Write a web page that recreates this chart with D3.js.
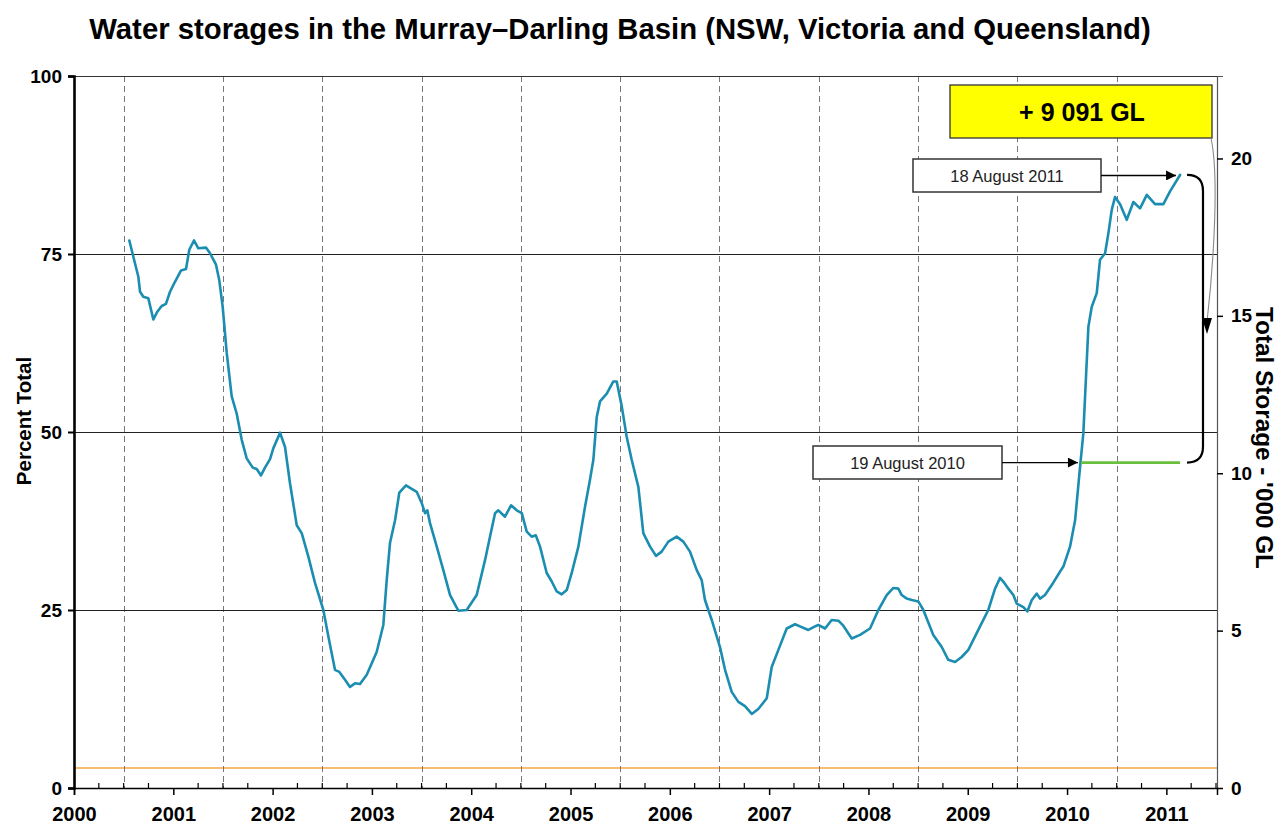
<!DOCTYPE html>
<html>
<head>
<meta charset="utf-8">
<script src="https://cdn.jsdelivr.net/npm/d3@7"></script>
<style>
  html, body { margin: 0; padding: 0; background: #fff; }
  svg { display: block; font-family: "Liberation Sans", Arial, sans-serif; }
</style>
</head>
<body>
<svg id="chart" width="1279" height="829"></svg>
<script>
// ---------- DATA ----------
const title = "Water storages in the Murray\u2013Darling Basin (NSW, Victoria and Queensland)";
const yearTicks = [2000, 2001, 2002, 2003, 2004, 2005, 2006, 2007, 2008, 2009, 2010, 2011];
const percentTicks = [0, 25, 50, 75, 100];
const storageTicks = [0, 5, 10, 15, 20];
const gridPercents = [25, 50, 75];
const midYearLines = [2000.5, 2001.5, 2002.5, 2003.5, 2004.5, 2005.5, 2006.5, 2007.5, 2008.5, 2009.5, 2010.5];
const deadStoragePercent = 2.8;
const capacityThousandGL = 22.62;

// decimal year positions and percent full
const dates = [
  2000.557, 2000.614, 2000.648, 2000.665, 2000.698, 2000.748, 2000.799, 2000.839, 2000.883, 2000.926,
  2000.967, 2001.017, 2001.078, 2001.128, 2001.161, 2001.208, 2001.252, 2001.329, 2001.370, 2001.430,
  2001.463, 2001.497, 2001.538, 2001.588, 2001.638, 2001.689, 2001.739, 2001.800, 2001.840, 2001.883,
  2001.923, 2001.974, 2002.007, 2002.075, 2002.125, 2002.175, 2002.243, 2002.293, 2002.360, 2002.427,
  2002.511, 2002.561, 2002.628, 2002.672, 2002.729, 2002.779, 2002.830, 2002.880, 2002.948, 2003.048,
  2003.115, 2003.149, 2003.182, 2003.233, 2003.276, 2003.343, 2003.401, 2003.451, 2003.502, 2003.535,
  2003.558, 2003.585, 2003.653, 2003.719, 2003.787, 2003.870, 2003.955, 2004.055, 2004.139, 2004.189,
  2004.240, 2004.273, 2004.340, 2004.401, 2004.458, 2004.509, 2004.559, 2004.609, 2004.650, 2004.693,
  2004.760, 2004.811, 2004.861, 2004.911, 2004.962, 2005.012, 2005.079, 2005.146, 2005.196, 2005.230,
  2005.264, 2005.297, 2005.365, 2005.431, 2005.465, 2005.516, 2005.566, 2005.616, 2005.683, 2005.733,
  2005.801, 2005.861, 2005.918, 2005.985, 2006.069, 2006.136, 2006.203, 2006.271, 2006.321, 2006.354,
  2006.422, 2006.505, 2006.556, 2006.623, 2006.690, 2006.757, 2006.825, 2006.891, 2006.976, 2007.026,
  2007.093, 2007.177, 2007.261, 2007.328, 2007.395, 2007.462, 2007.495, 2007.563, 2007.630, 2007.697,
  2007.747, 2007.832, 2007.915, 2008.016, 2008.100, 2008.184, 2008.251, 2008.301, 2008.335, 2008.386,
  2008.436, 2008.502, 2008.553, 2008.653, 2008.738, 2008.804, 2008.872, 2008.939, 2009.006, 2009.124,
  2009.207, 2009.275, 2009.325, 2009.358, 2009.409, 2009.459, 2009.493, 2009.560, 2009.600, 2009.645,
  2009.695, 2009.728, 2009.778, 2009.846, 2009.930, 2009.963, 2010.030, 2010.081, 2010.131, 2010.164,
  2010.191, 2010.215, 2010.249, 2010.299, 2010.332, 2010.383, 2010.416, 2010.450, 2010.483, 2010.534,
  2010.601, 2010.668, 2010.735, 2010.803, 2010.886, 2010.970, 2011.037, 2011.138
];
const percentFull = [
  76.9, 73.7, 71.8, 69.7, 69.0, 68.8, 65.8, 66.9, 67.7, 68.0,
  69.7, 71.1, 72.7, 72.9, 75.6, 76.9, 75.8, 75.9, 75.1, 73.5,
  71.3, 67.6, 61.1, 55.0, 52.6, 48.9, 46.3, 45.0, 44.8, 43.9,
  45.0, 46.2, 47.7, 49.9, 47.9, 42.8, 36.9, 35.8, 32.5, 28.8,
  25.0, 21.3, 16.6, 16.3, 15.2, 14.2, 14.7, 14.6, 15.9, 19.1,
  22.9, 29.2, 34.4, 37.6, 41.5, 42.5, 42.0, 41.6, 40.0, 38.6,
  39.0, 37.2, 33.9, 30.6, 27.1, 24.9, 25.0, 27.1, 32.0, 35.3,
  38.6, 39.0, 38.1, 39.7, 39.0, 38.6, 36.0, 35.3, 35.5, 33.9,
  30.2, 29.0, 27.6, 27.2, 27.8, 30.2, 33.9, 39.5, 43.3, 46.1,
  52.1, 54.3, 55.4, 57.1, 57.1, 53.6, 49.3, 46.1, 42.3, 35.8,
  33.9, 32.6, 33.2, 34.6, 35.3, 34.6, 33.2, 30.6, 29.2, 26.4,
  23.6, 19.8, 16.6, 13.5, 12.1, 11.5, 10.4, 11.1, 12.6, 17.0,
  19.4, 22.4, 23.0, 22.6, 22.2, 22.7, 22.9, 22.4, 23.6, 23.5,
  22.8, 21.0, 21.5, 22.4, 25.0, 27.1, 28.1, 28.0, 27.1, 26.6,
  26.4, 26.2, 25.0, 21.5, 19.8, 18.0, 17.7, 18.4, 19.4, 22.7,
  25.0, 28.0, 29.5, 29.0, 28.0, 27.1, 25.9, 25.4, 24.8, 26.4,
  27.3, 26.6, 27.1, 28.5, 30.4, 31.1, 33.9, 37.6, 45.1, 49.8,
  57.8, 64.8, 67.6, 69.5, 74.2, 75.1, 77.9, 81.2, 83.0, 82.0,
  79.8, 82.3, 81.4, 83.3, 82.0, 82.0, 83.8, 86.1
];
const lastYearStart = 2010.14;     // 19 August 2010 marker
const lastYearPercent = 45.7;
const labelThen = "19 August 2010";
const labelNow = "18 August 2011";
const changeLabel = "+ 9 091 GL";

// ---------- LAYOUT ----------
const svg = d3.select("#chart");
const mLeft = 74, mRight = 1217, mTop = 76, mBottom = 788;

const x = d3.scaleLinear().domain([2000, 2011.51]).range([mLeft, mRight]);
const y = d3.scaleLinear().domain([0, 100]).range([mBottom, mTop]);
const y2 = d3.scaleLinear().domain([0, capacityThousandGL]).range([mBottom, mTop]);

const FONT = '"Liberation Sans", Arial, sans-serif';

// markers
const defs = svg.append("defs");
defs.append("marker").attr("id", "arrowBlack")
  .attr("viewBox", "0 0 10 10").attr("refX", 10).attr("refY", 5)
  .attr("markerUnits", "userSpaceOnUse").attr("markerWidth", 13).attr("markerHeight", 10)
  .attr("orient", "auto")
  .append("path").attr("d", "M0,0 L10,5 L0,10 Z").attr("fill", "#000");

// Title
svg.append("text").attr("x", 620).attr("y", 39).attr("text-anchor", "middle")
  .attr("font-size", 29.3).attr("font-weight", "bold").attr("fill", "#000").text(title);

// Orange dead-storage line
svg.append("line").attr("x1", mLeft).attr("x2", mRight)
  .attr("y1", y(deadStoragePercent)).attr("y2", y(deadStoragePercent))
  .attr("stroke", "#f5a443").attr("stroke-width", 1.6);

// Dashed mid-year lines
svg.append("g").selectAll("line").data(midYearLines).join("line")
  .attr("x1", d => Math.round(x(d)) + 0.5).attr("x2", d => Math.round(x(d)) + 0.5)
  .attr("y1", mTop).attr("y2", mBottom)
  .attr("stroke", "#777").attr("stroke-width", 1).attr("stroke-dasharray", "6,4");

// Horizontal gridlines
svg.append("g").selectAll("line").data(gridPercents).join("line")
  .attr("x1", mLeft).attr("x2", mRight)
  .attr("y1", d => Math.round(y(d)) + 0.5).attr("y2", d => Math.round(y(d)) + 0.5)
  .attr("stroke", "#222").attr("stroke-width", 1.2);

// frame top
svg.append("line").attr("x1", mLeft).attr("x2", mRight).attr("y1", mTop + 0.5).attr("y2", mTop + 0.5)
  .attr("stroke", "#333").attr("stroke-width", 1.2);

// Left axis
const gL = svg.append("g").attr("transform", `translate(${mLeft},0)`)
  .call(d3.axisLeft(y).tickValues(percentTicks).tickSize(6).tickPadding(6));
gL.select(".domain").attr("stroke", "#000").attr("stroke-width", 2.6);
gL.selectAll(".tick line").attr("stroke", "#000").attr("stroke-width", 2);
gL.selectAll(".tick text").attr("font-family", FONT).attr("font-size", 19)
  .attr("font-weight", "bold").attr("fill", "#000");

// Right axis
const gR = svg.append("g").attr("transform", `translate(${mRight},0)`)
  .call(d3.axisRight(y2).tickValues(storageTicks).tickSize(6).tickPadding(8));
gR.select(".domain").attr("stroke", "#555").attr("stroke-width", 1.2);
gR.selectAll(".tick line").attr("stroke", "#000").attr("stroke-width", 1.5);
gR.selectAll(".tick text").attr("font-family", FONT).attr("font-size", 19)
  .attr("font-weight", "bold").attr("fill", "#000");

// Bottom axis: major ticks (years) and minor quarter ticks
const quarterTicks = d3.range(2000, 2011.51, 0.25).filter(v => Math.abs(v - Math.round(v)) > 0.01);
const gB = svg.append("g").attr("transform", `translate(0,${mBottom})`)
  .call(d3.axisBottom(x).tickValues(yearTicks).tickFormat(d3.format("d")).tickSize(7).tickPadding(12));
gB.select(".domain").attr("stroke", "#000").attr("stroke-width", 1.5);
gB.selectAll(".tick line").attr("stroke", "#000").attr("stroke-width", 1.5);
gB.selectAll(".tick text").attr("font-family", FONT).attr("font-size", 20)
  .attr("font-weight", "bold").attr("fill", "#000");
svg.append("g").selectAll("line").data(quarterTicks).join("line")
  .attr("x1", d => x(d)).attr("x2", d => x(d))
  .attr("y1", mBottom - 5).attr("y2", mBottom)
  .attr("stroke", "#000").attr("stroke-width", 1.2);

// Axis titles
svg.append("text").attr("transform", `translate(31,421) rotate(-90)`)
  .attr("text-anchor", "middle").attr("font-size", 20.5).attr("font-weight", "bold")
  .attr("fill", "#000").text("Percent Total");
svg.append("text").attr("transform", `translate(1256,438) rotate(90)`)
  .attr("text-anchor", "middle").attr("font-size", 24.3).attr("font-weight", "bold")
  .attr("fill", "#000").text("Total Storage - '000 GL");

// Series line
const series = dates.map((d, i) => ({ t: d, v: percentFull[i] }));
svg.append("path").datum(series)
  .attr("fill", "none").attr("stroke", "#1b8db0").attr("stroke-width", 2.6)
  .attr("stroke-linejoin", "round").attr("stroke-linecap", "round")
  .attr("d", d3.line().x(d => x(d.t)).y(d => y(d.v)));

// Green reference line (last year's level)
const lastPoint = series[series.length - 1];
svg.append("line")
  .attr("x1", x(lastYearStart)).attr("x2", x(lastPoint.t))
  .attr("y1", y(lastYearPercent)).attr("y2", y(lastYearPercent))
  .attr("stroke", "#6abf3c").attr("stroke-width", 2.6);

// Date boxes with arrows
function dateBox(label, bx, by, bw, bh, tipX, tipY) {
  svg.append("rect").attr("x", bx).attr("y", by).attr("width", bw).attr("height", bh)
    .attr("fill", "#fff").attr("stroke", "#333").attr("stroke-width", 1.5);
  svg.append("text").attr("x", bx + bw / 2).attr("y", by + bh / 2 + 6)
    .attr("text-anchor", "middle").attr("font-size", 16.5).attr("fill", "#222").text(label);
  svg.append("line").attr("x1", bx + bw).attr("x2", tipX).attr("y1", tipY).attr("y2", tipY)
    .attr("stroke", "#000").attr("stroke-width", 1.4).attr("marker-end", "url(#arrowBlack)");
}
dateBox(labelNow, 913, 159, 188, 33, x(lastPoint.t) - 4, y(lastPoint.v) + 0.5);
dateBox(labelThen, 813, 446, 189, 33, x(lastYearStart) - 3, y(lastYearPercent));

// Bracket between the two levels
const yA = y(lastPoint.v), yB = y(lastYearPercent);
svg.append("path")
  .attr("d", `M${x(lastPoint.t) + 7},${yA} Q1203,${yA} 1203,${yA + 16} L1203,${yB - 16} Q1203,${yB} ${x(lastPoint.t) + 7},${yB}`)
  .attr("fill", "none").attr("stroke", "#000").attr("stroke-width", 2.2);

// Yellow change box
svg.append("rect").attr("x", 950).attr("y", 85).attr("width", 262).attr("height", 53)
  .attr("fill", "#ffff00").attr("stroke", "#333").attr("stroke-width", 1.3);
svg.append("text").attr("x", 1082).attr("y", 121).attr("text-anchor", "middle")
  .attr("font-size", 25).attr("font-weight", "bold").attr("fill", "#000").text(changeLabel);

// Callout connector from yellow box to bracket
svg.append("path")
  .attr("d", "M1211,138 C1219,175 1214,260 1207,322")
  .attr("fill", "none").attr("stroke", "#888").attr("stroke-width", 1.1);
svg.append("path").attr("d", "M1202,318 L1212,318 L1207,334 Z").attr("fill", "#000");
</script>
</body>
</html>
